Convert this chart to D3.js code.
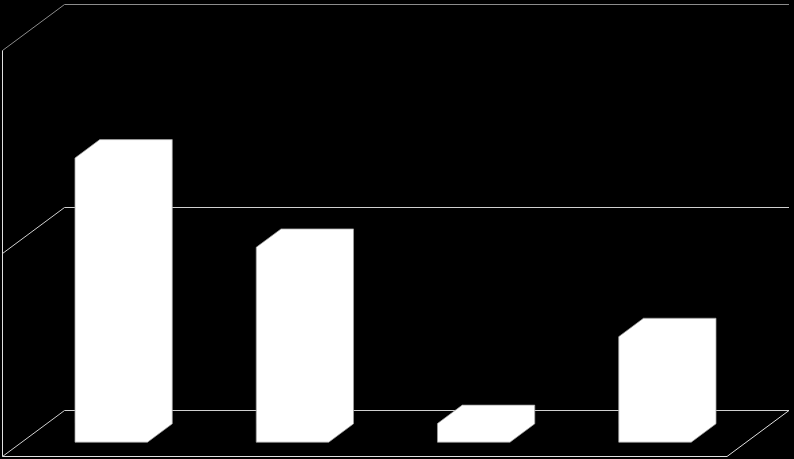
<!DOCTYPE html>
<html>
<head>
<meta charset="utf-8">
<script src="https://cdn.jsdelivr.net/npm/d3@7"></script>
<style>
  html, body { margin: 0; padding: 0; background: #000; }
  svg { display: block; }
</style>
</head>
<body>
<div class="chart"></div>
<script>
// chart data (no labels are shown in the picture)
var categories = ["Cat 1", "Cat 2", "Cat 3", "Cat 4"];
var values = [70, 48, 4.6, 26];
var ticks = [0, 50, 100];

var svgWidth = 794;
var svgHeight = 459;

// oblique 3D offset of the back wall
var depth = { dx: 62, dy: -46 };
// bars sit between 30% and 70% of the depth
var barFront = 0.3, barBack = 0.7;

var svg = d3.select(".chart")
  .append("svg")
  .attr("width", svgWidth)
  .attr("height", svgHeight)
  .style("background", "#000");

// front plane scales
var xScale = d3.scaleBand()
  .domain(categories)
  .range([2, 727])
  .paddingInner(0.6)
  .paddingOuter(0.3);

var yScale = d3.scaleLinear()
  .domain([0, 100])
  .range([456, 50]);

// project a point (x, y on front plane) back by fraction f of depth
function proj(x, y, f) {
  return [x + depth.dx * f, y + depth.dy * f];
}

var walls = svg.append("g");

// gridlines: diagonal on side wall + horizontal on back wall
ticks.forEach(function(t) {
  var y = yScale(t) + 0.5;
  var back = proj(2.5, y, 1);
  walls.append("path")
    .attr("d", `M2.5,${y} L${back[0]},${back[1]} L${xScale.range()[1] + depth.dx},${back[1]}`)
    .attr("fill", "none")
    .attr("stroke", t === 100 ? "#8c8c8c" : "#d0d0d0")
    .attr("stroke-width", 1);
});

// left wall front edge
walls.append("line")
  .attr("x1", 2.5).attr("x2", 2.5)
  .attr("y1", yScale(100) + 0.5).attr("y2", yScale(0) + 0.5)
  .attr("stroke", "#e0e0e0")
  .attr("stroke-width", 1);

// floor front edge and right edge
var fr = xScale.range()[1];
var frBack = proj(fr, yScale(0) + 0.5, 1);
walls.append("path")
  .attr("d", `M2.5,${yScale(0) + 0.5} L${fr},${yScale(0) + 0.5} L${frBack[0]},${frBack[1]}`)
  .attr("fill", "none")
  .attr("stroke", "#e0e0e0")
  .attr("stroke-width", 1);

// bars: all faces are plain white, so draw the outline of the block only
var bw = xScale.bandwidth();

svg.append("g")
  .selectAll("path")
  .data(values)
  .enter()
  .append("path")
  .attr("d", function(d, i) {
    var x0 = xScale(categories[i]);
    var x1 = x0 + bw;
    var yTop = yScale(d);
    var yBot = yScale(0);
    var pts = [
      proj(x0, yBot, barFront),
      proj(x0, yTop, barFront),
      proj(x0, yTop, barBack),
      proj(x1, yTop, barBack),
      proj(x1, yBot, barBack),
      proj(x1, yBot, barFront)
    ];
    return d3.line()(pts) + "Z";
  })
  .attr("fill", "#fff")
  .attr("stroke", "#a0a0a0")
  .attr("stroke-width", 0.75);
</script>
</body>
</html>
